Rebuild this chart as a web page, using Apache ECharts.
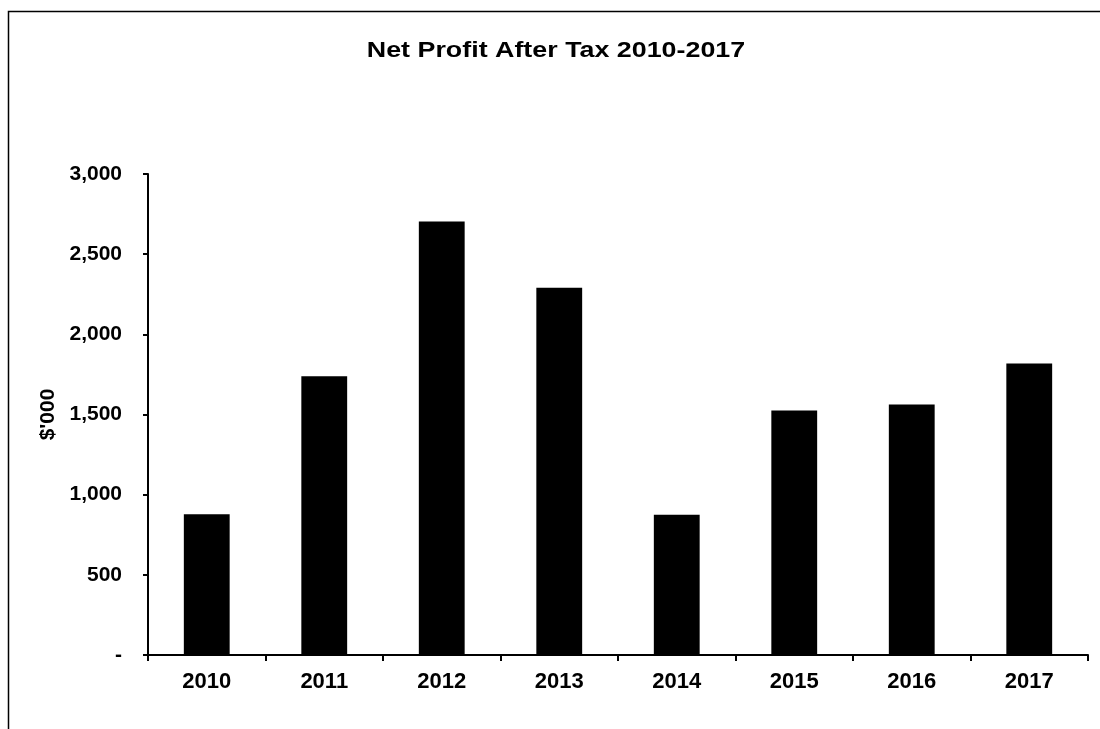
<!DOCTYPE html>
<html>
<head>
<meta charset="utf-8">
<script src="https://cdn.jsdelivr.net/npm/echarts@6/dist/echarts.min.js"></script>
<style>
html,body{margin:0;padding:0;background:#fff;}
#chart{width:1100px;height:729px;}
</style>
</head>
<body>
<div id="chart"></div>
<script>
var categories = ['2010','2011','2012','2013','2014','2015','2016','2017'];
var profitValues = [878, 1739, 2704, 2291, 875, 1525, 1563, 1818];
var yTicks = [0, 500, 1000, 1500, 2000, 2500, 3000];
var titleText = 'Net Profit After Tax 2010-2017';
var yAxisName = "$'000";

var FONT = '"Liberation Sans", Arial, sans-serif';
var chart = echarts.init(document.getElementById('chart'));
chart.setOption({
  animation: false,
  backgroundColor: '#ffffff',
  graphic: [{
    type: 'rect',
    shape: {x: 8.5, y: 11.5, width: 1200, height: 1000},
    style: {fill: 'none', stroke: '#000', lineWidth: 1.5},
    silent: true
  }, {
    type: 'text',
    x: 556,
    y: 51,
    scaleX: 1.22,
    style: {
      text: titleText,
      fill: '#000',
      font: 'bold 22px "Liberation Sans", Arial, sans-serif',
      textAlign: 'center',
      textVerticalAlign: 'middle'
    },
    silent: true
  }],
  grid: {left: 148, top: 174, right: 12, bottom: 74, containLabel: false},
  xAxis: {
    type: 'category',
    data: categories,
    axisLine: {lineStyle: {color: '#000', width: 2}},
    axisTick: {show: true, length: 6, lineStyle: {color: '#000', width: 2}},
    axisLabel: {margin: 16, color: '#000', fontFamily: FONT, fontWeight: 'bold', fontSize: 22}
  },
  yAxis: {
    type: 'value',
    min: yTicks[0],
    max: yTicks[yTicks.length - 1],
    interval: 500,
    name: yAxisName,
    nameLocation: 'middle',
    nameRotate: 90,
    nameGap: 88,
    nameTextStyle: {color: '#000', fontFamily: FONT, fontWeight: 'bold', fontSize: 21},
    axisLine: {show: true, lineStyle: {color: '#000', width: 2}},
    axisTick: {show: true, length: 5, lineStyle: {color: '#000', width: 2}},
    splitLine: {show: false},
    axisLabel: {
      margin: 26,
      color: '#000',
      fontFamily: FONT,
      fontWeight: 'bold',
      fontSize: 21,
      formatter: function (v) { return v === 0 ? '-' : v.toLocaleString('en-US'); }
    }
  },
  series: [{
    type: 'bar',
    data: profitValues,
    barWidth: '39%',
    itemStyle: {color: '#000'}
  }]
});
</script>
</body>
</html>
